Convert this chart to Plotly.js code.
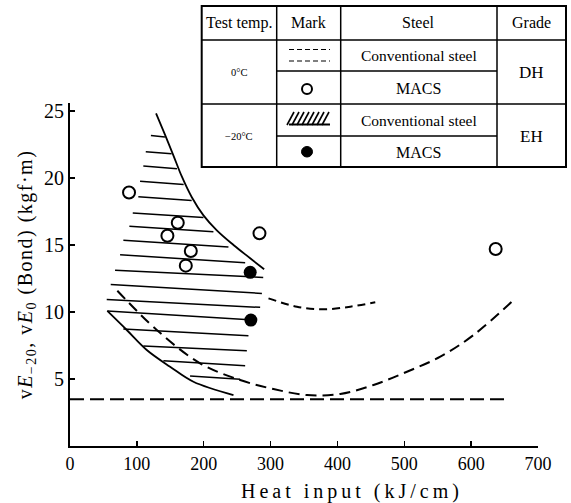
<!DOCTYPE html>
<html>
<head>
<meta charset="utf-8">
<script src="https://cdn.plot.ly/plotly-3.0.1.min.js"></script>
<style>html,body{margin:0;padding:0;background:#fff;}#chart{width:571px;height:503px;}</style>
</head>
<body>
<div id="chart"></div>
<script>
// ---- data ----
// EH conventional steel (-20°C): hatched band, upper and lower solid boundaries
const upperX = [128.7, 142.2, 154.6, 167.2, 182.2, 199.6, 219.6, 244.5, 269.5, 290.4];
const upperY = [24.81, 23.2, 21.68, 20.1, 18.55, 17.2, 16.08, 14.99, 14.0, 13.18];
const lowerX = [55.8, 84.9, 114.8, 149.7, 184.6, 244.5];
const lowerY = [10.07, 8.65, 7.16, 5.91, 4.79, 3.80];
// hatching segments (left end x/y, right end x/y)
const hatchX0 = [121.0, 113.3, 109.7, 104.8, 102.2, 93.9, 88.8, 79.8, 74.9, 67.4, 60.9, 54.9, 55.8, 79.8, 109.7, 139.7, 179.6];
const hatchY0 = [23.15, 21.95, 20.88, 19.74, 18.59, 17.38, 16.38, 15.34, 14.26, 13.1, 12.05, 10.93, 10.06, 8.72, 7.45, 6.36, 5.22];
const hatchX1 = [142.0, 152.0, 160.0, 170.0, 182.0, 199.6, 214.5, 237.0, 262.0, 289.0, 287.0, 284.4, 274.4, 266.9, 264.5, 262.0, 254.5];
const hatchY1 = [23.05, 21.8, 20.68, 19.5, 18.3, 17.04, 15.98, 14.85, 13.66, 12.57, 11.38, 10.34, 9.39, 8.22, 7.1, 5.98, 4.97];
// DH conventional steel (0°C): dashed curves
const dhLowX = [70.8, 129.8, 194.6, 254.5, 304.3, 354.3, 404.2, 454.0, 504.0, 553.9, 603.7, 663.6];
const dhLowY = [11.58, 8.65, 6.17, 4.92, 4.25, 3.80, 3.88, 4.55, 5.54, 6.66, 8.28, 10.89];
const dhArcX = [296.9, 339.4, 379.2, 419.2, 456.6];
const dhArcY = [11.01, 10.39, 10.19, 10.39, 10.72];
const dhFlatX = [0, 656];
const dhFlatY = [3.48, 3.48];
// MACS points
const macsDHx = [88.3, 161.2, 145.7, 180.7, 173.2, 283.4, 636.7];
const macsDHy = [18.91, 16.65, 15.68, 14.54, 13.45, 15.86, 14.69];
const macsEHx = [269.5, 270.5];
const macsEHy = [12.95, 9.39];
// axes
const xTicks = [0, 100, 200, 300, 400, 500, 600, 700];
const yTicks = [5, 10, 15, 20, 25];
const xTitle = 'Heat input (kJ/cm)';
const yTitle = 'v<i>E</i><sub>−20</sub>, v<i>E</i><sub>0</sub> (Bond) (kgf·m)';
// legend table
const tableHeaders = ['Test temp.', 'Mark', 'Steel', 'Grade'];
const tableTemps = ['0°C', '−20°C'];
const tableSteels = ['Conventional steel', 'MACS', 'Conventional steel', 'MACS'];
const tableGrades = ['DH', 'EH'];

// ---- build ----
const SERIF = 'Liberation Serif, Times New Roman, serif';
const hx = [], hy = [];
for (let i = 0; i < hatchX0.length; i++) {
  hx.push(hatchX0[i], hatchX1[i], null);
  hy.push(hatchY0[i], hatchY1[i], null);
}
const traces = [
  {x: hx, y: hy, mode: 'lines', line: {color: '#000', width: 1.5}, hoverinfo: 'skip', name: 'hatch'},
  {x: upperX, y: upperY, mode: 'lines', line: {color: '#000', width: 1.8, shape: 'spline', smoothing: 1}, name: 'EH upper'},
  {x: lowerX, y: lowerY, mode: 'lines', line: {color: '#000', width: 1.8, shape: 'spline', smoothing: 1}, name: 'EH lower'},
  {x: dhLowX, y: dhLowY, mode: 'lines', line: {color: '#000', width: 2, dash: '11px,6px', shape: 'spline'}, name: 'DH conv'},
  {x: dhArcX, y: dhArcY, mode: 'lines', line: {color: '#000', width: 2, dash: '8px,5px', shape: 'spline'}, name: 'DH conv arc'},
  {x: dhFlatX, y: dhFlatY, mode: 'lines', line: {color: '#000', width: 2, dash: '14px,6px'}, name: 'DH flat'},
  {x: macsDHx, y: macsDHy, mode: 'markers', marker: {symbol: 'circle-open', size: 12, color: '#000', line: {width: 2, color: '#000'}}, name: 'MACS DH'},
  {x: macsEHx, y: macsEHy, mode: 'markers', marker: {symbol: 'circle', size: 13, color: '#000'}, name: 'MACS EH'}
];

// pixel -> paper helpers for the table
const L = 70, R = 33, T = 103, B = 57, W = 571, H = 503;
const pw = W - L - R, ph = H - T - B;
const PX = p => (p - L) / pw;
const PY = p => (H - B - p) / ph;

const shapes = [];
const line = (x0, y0, x1, y1, w, dash) => shapes.push({type: 'line', xref: 'paper', yref: 'paper',
  x0: PX(x0), y0: PY(y0), x1: PX(x1), y1: PY(y1), line: {color: '#000', width: w, dash: dash || 'solid'}});
// table frame
const tL = 201.7, tR = 566, tT = 6, tB = 167;
const c1 = 276.7, c2 = 340.7, c3 = 497;
const r1 = 40, r2 = 71, r3 = 104, r4 = 136;
shapes.push({type: 'rect', xref: 'paper', yref: 'paper', x0: PX(tL), x1: PX(tR), y0: PY(tB), y1: PY(tT),
  line: {color: '#000', width: 2}, fillcolor: '#fff'});
[c1, c2, c3].forEach(c => line(c, tT, c, tB, 1.5));
[r1, r3].forEach(r => line(tL, r, tR, r, 1.5));
[r2, r4].forEach(r => line(c1, r, c3, r, 1.5));
// mark icons
line(289, 49.5, 330, 49.5, 1.2, '5px,3px');
line(289, 61, 330, 61, 1.2, '5px,3px');
shapes.push({type: 'circle', xref: 'paper', yref: 'paper', x0: PX(302), x1: PX(312), y0: PY(94), y1: PY(84),
  line: {color: '#000', width: 2}, fillcolor: '#fff'});
for (let k = 0; k < 8; k++) line(287 + k * 5, 125, 294 + k * 5, 112, 1.6);
line(289, 124.5, 330, 124.5, 2);
shapes.push({type: 'circle', xref: 'paper', yref: 'paper', x0: PX(301.5), x1: PX(312.5), y0: PY(157), y1: PY(146.5),
  line: {color: '#000', width: 1}, fillcolor: '#000'});

const annotations = [];
const txt = (t, x, y, size) => annotations.push({text: t, xref: 'paper', yref: 'paper', x: PX(x), y: PY(y),
  xanchor: 'center', yanchor: 'middle', showarrow: false, font: {family: SERIF, size: size, color: '#000'}});
const colC = [(tL + c1) / 2, (c1 + c2) / 2, (c2 + c3) / 2, (c3 + tR) / 2];
tableHeaders.forEach((h, i) => txt(h, colC[i], 23, 16));
txt(tableTemps[0], colC[0], 72, 10.5);
txt(tableTemps[1], colC[0], 136, 10.5);
[55.5, 88, 120, 152].forEach((y, i) => txt(tableSteels[i], colC[2], y, tableSteels[i] === 'MACS' ? 16 : 15.5));
txt(tableGrades[0], colC[3], 72, 17);
txt(tableGrades[1], colC[3], 136, 17);
// x axis title
txt(xTitle, 352, 491, 20);

const layout = {
  width: W, height: H,
  margin: {l: L, r: R, t: T, b: B, pad: 0},
  paper_bgcolor: '#fff', plot_bgcolor: '#fff',
  showlegend: false,
  xaxis: {range: [0, 700], tickvals: xTicks, ticktext: xTicks.map(String), ticks: 'inside', ticklen: 5, tickwidth: 1.5,
    tickcolor: '#000', showline: true, linecolor: '#000', linewidth: 2, showgrid: false, zeroline: false,
    tickfont: {family: SERIF, size: 18, color: '#000'}, fixedrange: true},
  yaxis: {range: [0, 25.58], tickvals: yTicks, ticktext: yTicks.map(String), ticks: 'inside', ticklen: 5, tickwidth: 1.5,
    tickcolor: '#000', showline: true, linecolor: '#000', linewidth: 2, showgrid: false, zeroline: false,
    tickfont: {family: SERIF, size: 20, color: '#000'}, fixedrange: true,
    title: {text: yTitle, font: {family: SERIF, size: 20, color: '#000'}, standoff: 6}},
  shapes: shapes,
  annotations: annotations
};
Plotly.newPlot('chart', traces, layout, {displayModeBar: false, staticPlot: true}).then(gd => {
  // the printed axis titles are widely letter-spaced
  gd.querySelectorAll('text.annotation-text').forEach(t => {
    if (t.textContent === xTitle) t.setAttribute('letter-spacing', '4px');
  });
  gd.querySelectorAll('text.ytitle').forEach(t => t.setAttribute('letter-spacing', '1.5px'));
});
</script>
</body>
</html>
